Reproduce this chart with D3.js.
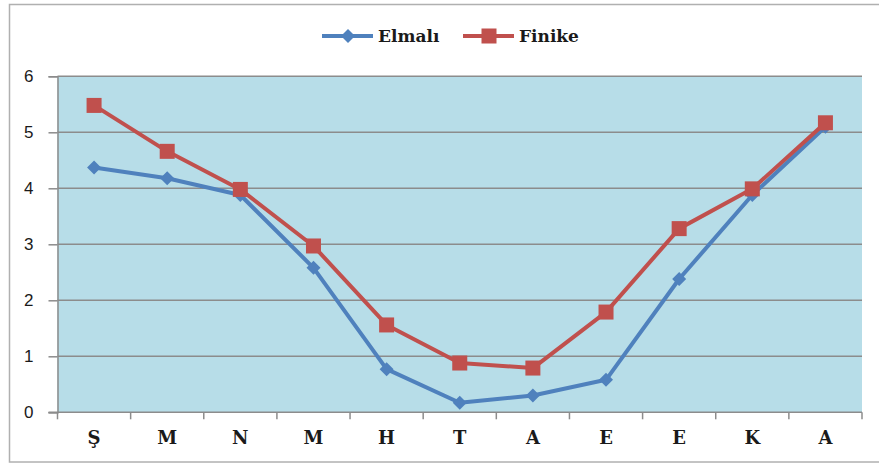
<!DOCTYPE html>
<html lang="tr">
<head>
<meta charset="UTF-8">
<title>Elmalı - Finike</title>
<script src="https://cdn.jsdelivr.net/npm/d3@7/dist/d3.min.js"></script>
<style>
  html, body { margin: 0; background: #fff; }
  svg { display: block; }
</style>
</head>
<body>
<script>
  // veriler
  const months = ['Ş', 'M', 'N', 'M', 'H', 'T', 'A', 'E', 'E', 'K', 'A']
  const elmali = [4.37, 4.18, 3.88, 2.58, 0.77, 0.17, 0.30, 0.58, 2.38, 3.88, 5.10]
  const finike = [5.48, 4.66, 3.98, 2.97, 1.56, 0.88, 0.79, 1.79, 3.28, 3.99, 5.17]
  const yTicks = [0, 1, 2, 3, 4, 5, 6]
  const seriesNames = ['Elmalı', 'Finike']

  const width = 879
  const height = 463
  const margin = { left: 57.5, right: 17, top: 76.3, bottom: 50.7 }

  const blue = '#4f81bd'
  const red = '#c0504d'
  const grid = '#8c8c8c'

  const svg = d3.select('body').append('svg')
    .attr('width', width)
    .attr('height', height)

  // dış çerçeve
  svg.append('rect')
    .attr('x', 9.5).attr('y', 4.5)
    .attr('width', width).attr('height', 457.5)
    .attr('fill', '#fff')
    .attr('stroke', '#b0b0b0')
    .attr('stroke-width', 1.5)

  const x = d3.scaleBand()
    .domain(d3.range(months.length))
    .range([margin.left, width - margin.right])
    .padding(0)

  const y = d3.scaleLinear()
    .domain([0, 6])
    .range([height - margin.bottom, margin.top])

  // çizim alanı
  svg.append('rect')
    .attr('x', margin.left)
    .attr('y', y(6))
    .attr('width', x.range()[1] - margin.left)
    .attr('height', y(0) - y(6))
    .attr('fill', '#b7dde8')

  // yatay ızgara
  svg.append('g')
    .selectAll('line')
    .data(yTicks.filter(d => d > 0))
    .join('line')
    .attr('x1', margin.left).attr('x2', x.range()[1])
    .attr('y1', d => y(d)).attr('y2', d => y(d))
    .attr('stroke', grid)
    .attr('stroke-width', 1.5)

  // y ekseni
  const gy = svg.append('g')
    .attr('transform', `translate(${margin.left},0)`)
    .call(d3.axisLeft(y).tickValues(yTicks).tickFormat(d3.format('d')).tickSize(9).tickPadding(15))
  gy.select('.domain').attr('stroke', grid).attr('stroke-width', 1.5)
  gy.selectAll('.tick line').attr('stroke', grid).attr('stroke-width', 1.5)
  gy.selectAll('.tick text')
    .attr('font-family', 'Liberation Sans, Arial, sans-serif')
    .attr('font-size', 17)
    .attr('fill', '#1a1a1a')

  // x ekseni
  const gx = svg.append('g')
    .attr('transform', `translate(0,${y(0)})`)
  gx.append('line')
    .attr('x1', margin.left - 9).attr('x2', x.range()[1])
    .attr('stroke', grid).attr('stroke-width', 1.5)
  gx.selectAll('.xtick')
    .data(d3.range(months.length + 1))
    .join('line')
    .attr('class', 'xtick')
    .attr('x1', i => margin.left + i * x.step())
    .attr('x2', i => margin.left + i * x.step())
    .attr('y1', 0).attr('y2', 7)
    .attr('stroke', grid).attr('stroke-width', 1.5)
  gx.selectAll('.xlabel')
    .data(months)
    .join('text')
    .attr('class', 'xlabel')
    .attr('x', (d, i) => x(i) + x.bandwidth() / 2)
    .attr('y', 32)
    .attr('text-anchor', 'middle')
    .attr('font-family', 'DejaVu Serif, serif')
    .attr('font-weight', 'bold')
    .attr('font-size', 18)
    .attr('fill', '#1a1a1a')
    .text(d => d)

  const cx = i => x(i) + x.bandwidth() / 2
  const line = d3.line().x((d, i) => cx(i)).y(d => y(d))

  const diamond = s => `M0,${-s}L${s},0L0,${s}L${-s},0Z`

  // Elmalı
  svg.append('path')
    .attr('d', line(elmali))
    .attr('fill', 'none')
    .attr('stroke', blue)
    .attr('stroke-width', 4)
    .attr('stroke-linejoin', 'round')
  svg.append('g').selectAll('path')
    .data(elmali)
    .join('path')
    .attr('transform', (d, i) => `translate(${cx(i)},${y(d)})`)
    .attr('d', diamond(7))
    .attr('fill', blue)

  // Finike
  svg.append('path')
    .attr('d', line(finike))
    .attr('fill', 'none')
    .attr('stroke', red)
    .attr('stroke-width', 4)
    .attr('stroke-linejoin', 'round')
  svg.append('g').selectAll('rect')
    .data(finike)
    .join('rect')
    .attr('x', (d, i) => cx(i) - 7.5)
    .attr('y', d => y(d) - 7.5)
    .attr('width', 15).attr('height', 15)
    .attr('fill', red)

  // lejant
  const legend = svg.append('g').attr('transform', 'translate(0,36)')
  const items = [
    { name: seriesNames[0], color: blue, x0: 322, shape: 'diamond' },
    { name: seriesNames[1], color: red, x0: 463, shape: 'square' }
  ]
  items.forEach(it => {
    legend.append('line')
      .attr('x1', it.x0).attr('x2', it.x0 + 51)
      .attr('stroke', it.color).attr('stroke-width', 4)
    if (it.shape === 'diamond') {
      legend.append('path')
        .attr('transform', `translate(${it.x0 + 26},0)`)
        .attr('d', diamond(7))
        .attr('fill', it.color)
    } else {
      legend.append('rect')
        .attr('x', it.x0 + 26 - 7.5).attr('y', -7.5)
        .attr('width', 15).attr('height', 15)
        .attr('fill', it.color)
    }
    legend.append('text')
      .attr('x', it.x0 + 56)
      .attr('y', 6)
      .attr('font-family', 'DejaVu Serif, serif')
      .attr('font-weight', 'bold')
      .attr('font-size', 17)
      .attr('fill', '#1a1a1a')
      .text(it.name)
  })
</script>
</body>
</html>
